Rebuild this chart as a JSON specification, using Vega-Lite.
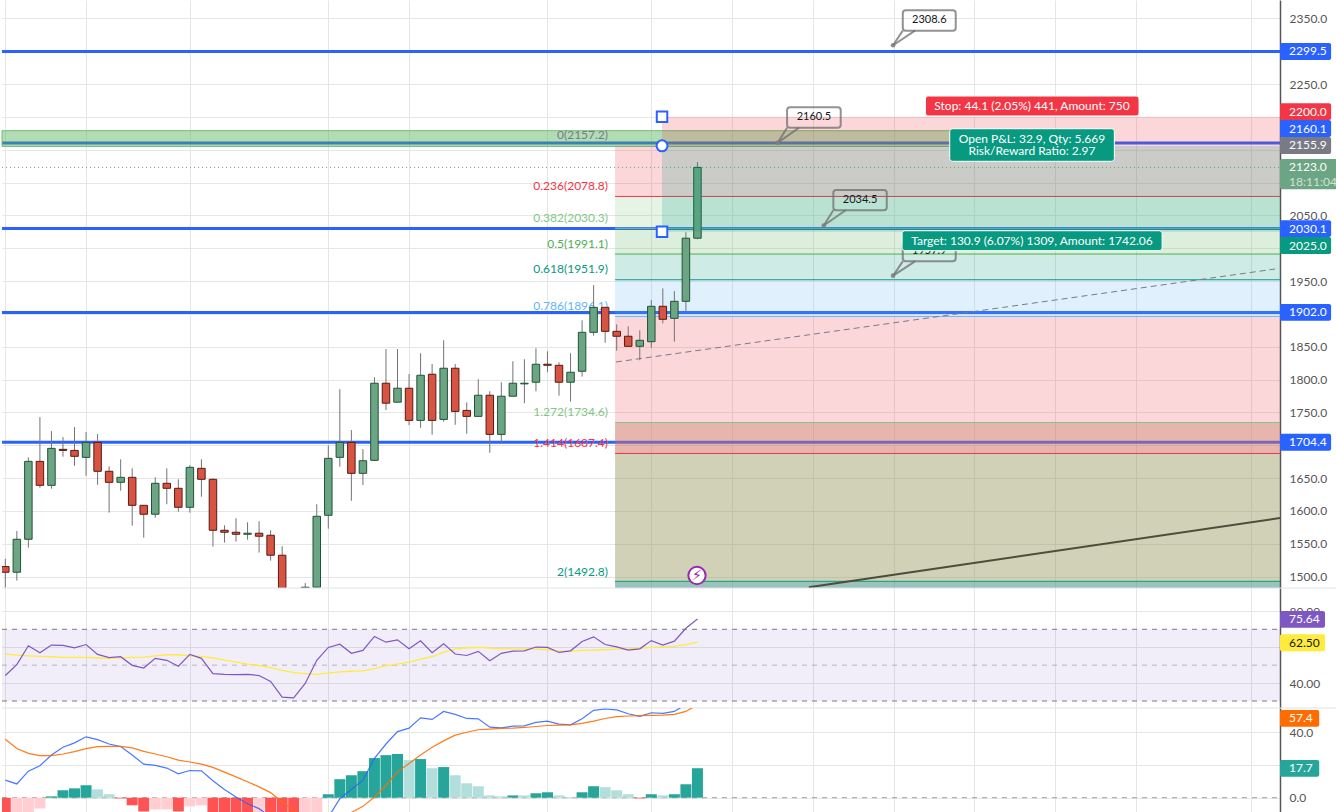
{
"$schema":"https://vega.github.io/schema/vega-lite/v6.json",
"padding":0,"spacing":0,"bounds":"flush","background":"white",
"config":{"view":{"stroke":null},"text":{"font":"Lato"}},
"datasets":{
"candles":[
{"x":0,"o":1515.2,"h":1526.9,"l":1482.8,"c":1506.6,"d":"down"},
{"x":1,"o":1506.6,"h":1569.4,"l":1493.9,"c":1556.8,"d":"up"},
{"x":2,"o":1556.8,"h":1681.5,"l":1544.1,"c":1675.4,"d":"up"},
{"x":3,"o":1675.4,"h":1742.8,"l":1635.3,"c":1638.9,"d":"down"},
{"x":4,"o":1638.9,"h":1721.5,"l":1633.8,"c":1695.2,"d":"up"},
{"x":5,"o":1693.7,"h":1712.4,"l":1682.5,"c":1692.1,"d":"down"},
{"x":6,"o":1692.1,"h":1727.6,"l":1668.8,"c":1683.1,"d":"down"},
{"x":7,"o":1681.5,"h":1720,"l":1653.5,"c":1704.3,"d":"up"},
{"x":8,"o":1704.3,"h":1717,"l":1639.9,"c":1660.3,"d":"down"},
{"x":9,"o":1660.3,"h":1667.8,"l":1597.3,"c":1643.5,"d":"down"},
{"x":10,"o":1643.5,"h":1678.5,"l":1630.8,"c":1651.1,"d":"up"},
{"x":11,"o":1651.1,"h":1664.8,"l":1577.5,"c":1608.5,"d":"down"},
{"x":12,"o":1608.5,"h":1608.5,"l":1559.3,"c":1594.9,"d":"down"},
{"x":13,"o":1594.9,"h":1651.1,"l":1589.7,"c":1642,"d":"up"},
{"x":14,"o":1642,"h":1664.8,"l":1610.1,"c":1634.4,"d":"down"},
{"x":15,"o":1634.4,"h":1648.1,"l":1598.8,"c":1605.5,"d":"down"},
{"x":16,"o":1605.5,"h":1669.4,"l":1597.3,"c":1666.3,"d":"up"},
{"x":17,"o":1664.8,"h":1678.5,"l":1621.6,"c":1648.1,"d":"down"},
{"x":18,"o":1648.1,"h":1649.6,"l":1545.6,"c":1570.5,"d":"down"},
{"x":19,"o":1570.5,"h":1578.1,"l":1551.7,"c":1567.5,"d":"down"},
{"x":20,"o":1567.5,"h":1588.8,"l":1553.2,"c":1564.4,"d":"down"},
{"x":21,"o":1564.4,"h":1582.7,"l":1556.2,"c":1566,"d":"up"},
{"x":22,"o":1566,"h":1584.2,"l":1536.5,"c":1561.4,"d":"down"},
{"x":23,"o":1562.9,"h":1570.5,"l":1524.3,"c":1532.5,"d":"down"},
{"x":24,"o":1532.5,"h":1546.2,"l":1466,"c":1480,"d":"down"},
{"x":25,"o":1479,"h":1481,"l":1456,"c":1470,"d":"down"},
{"x":26,"o":1482.6,"h":1490,"l":1479,"c":1483.8,"d":"up"},
{"x":27,"o":1483.8,"h":1610.1,"l":1479,"c":1591.8,"d":"up"},
{"x":28,"o":1593.3,"h":1699.8,"l":1572.9,"c":1680,"d":"up"},
{"x":29,"o":1681.5,"h":1785.3,"l":1667.2,"c":1704.3,"d":"up"},
{"x":30,"o":1704.3,"h":1723.1,"l":1615.5,"c":1657.2,"d":"down"},
{"x":31,"o":1657.2,"h":1694.2,"l":1639.4,"c":1676.4,"d":"up"},
{"x":32,"o":1677,"h":1803.5,"l":1676,"c":1794.4,"d":"up"},
{"x":33,"o":1794.4,"h":1846.5,"l":1753.5,"c":1764,"d":"down"},
{"x":34,"o":1765.5,"h":1846.5,"l":1765.2,"c":1786.8,"d":"up"},
{"x":35,"o":1786.8,"h":1808.5,"l":1730.7,"c":1737.8,"d":"down"},
{"x":36,"o":1737.8,"h":1840,"l":1726.5,"c":1806.5,"d":"up"},
{"x":37,"o":1808.1,"h":1823.7,"l":1715.9,"c":1737.8,"d":"down"},
{"x":38,"o":1739.3,"h":1859.8,"l":1735.7,"c":1817.2,"d":"up"},
{"x":39,"o":1817.2,"h":1823.7,"l":1731.1,"c":1751.5,"d":"down"},
{"x":40,"o":1753,"h":1765.1,"l":1717.4,"c":1743.9,"d":"down"},
{"x":41,"o":1743.9,"h":1800.4,"l":1743.9,"c":1776.1,"d":"up"},
{"x":42,"o":1776.1,"h":1782.2,"l":1688.5,"c":1716.5,"d":"down"},
{"x":43,"o":1716.5,"h":1795.9,"l":1702.8,"c":1774.6,"d":"up"},
{"x":44,"o":1774.6,"h":1827.8,"l":1774.6,"c":1794.4,"d":"up"},
{"x":45,"o":1793.4,"h":1830.9,"l":1764,"c":1794.4,"d":"up"},
{"x":46,"o":1795.9,"h":1847.6,"l":1782.2,"c":1823.3,"d":"up"},
{"x":47,"o":1823.3,"h":1843,"l":1811.1,"c":1821.7,"d":"down"},
{"x":48,"o":1821.7,"h":1826.3,"l":1775.5,"c":1795.9,"d":"down"},
{"x":49,"o":1795.9,"h":1840,"l":1766.4,"c":1811.1,"d":"up"},
{"x":50,"o":1812.6,"h":1890.2,"l":1804.4,"c":1871.9,"d":"up"},
{"x":51,"o":1871.9,"h":1943.8,"l":1866.7,"c":1909.9,"d":"up"},
{"x":52,"o":1909.9,"h":1909.9,"l":1856.1,"c":1873.4,"d":"down"},
{"x":53,"o":1873.4,"h":1884.1,"l":1843.9,"c":1865.9,"d":"down"},
{"x":54,"o":1865.9,"h":1881.1,"l":1850.6,"c":1850.6,"d":"down"},
{"x":55,"o":1850.6,"h":1874.9,"l":1829.4,"c":1859.7,"d":"up"},
{"x":56,"o":1857.6,"h":1921,"l":1848.5,"c":1911.5,"d":"up"},
{"x":57,"o":1911.5,"h":1938.8,"l":1885.6,"c":1891.7,"d":"down"},
{"x":58,"o":1893.2,"h":1934.7,"l":1857.6,"c":1919.1,"d":"up"},
{"x":59,"o":1919.1,"h":2024.3,"l":1903.9,"c":2015.2,"d":"up"},
{"x":60,"o":2015.2,"h":2131.2,"l":2013.7,"c":2123,"d":"up"}
],
"hlines":[
{"x":-0.286,"x2":110.5,"y":2299.5},
{"x":-0.286,"x2":110.5,"y":2160.1},
{"x":-0.286,"x2":110.5,"y":2030.1},
{"x":-0.286,"x2":110.5,"y":1902},
{"x":-0.286,"x2":110.5,"y":1704.4}
],
"fib":[
{"k":"a","x":52.86,"x2":110.5,"y":2155.5,"y2":2078.8},
{"k":"b","x":52.86,"x2":110.5,"y":2078.8,"y2":2030.3},
{"k":"c","x":52.86,"x2":110.5,"y":2030.3,"y2":1991.1},
{"k":"d","x":52.86,"x2":110.5,"y":1991.1,"y2":1951.9},
{"k":"e","x":52.86,"x2":110.5,"y":1951.9,"y2":1896.1},
{"k":"f","x":52.86,"x2":110.5,"y":1896.1,"y2":1734.6},
{"k":"g","x":52.86,"x2":110.5,"y":1734.6,"y2":1687.4},
{"k":"h","x":52.86,"x2":110.5,"y":1687.4,"y2":1492.8},
{"k":"i","x":52.86,"x2":110.5,"y":1492.8,"y2":1482.6}
],
"fibLines":[
{"k":"0.236","x":52.86,"x2":110.5,"y":2078.8},
{"k":"0.382","x":52.86,"x2":110.5,"y":2030.3},
{"k":"0.5","x":52.86,"x2":110.5,"y":1991.1},
{"k":"0.618","x":52.86,"x2":110.5,"y":1951.9},
{"k":"0.786","x":52.86,"x2":110.5,"y":1896.1},
{"k":"1.272","x":52.86,"x2":110.5,"y":1734.6},
{"k":"1.414","x":52.86,"x2":110.5,"y":1687.4},
{"k":"2","x":52.86,"x2":110.5,"y":1492.8}
],
"fibLabels":[
{"k":"0","x":52.25,"y":2172.3,"t":"0(2157.2)"},
{"k":"0.236","x":52.25,"y":2094.7,"t":"0.236(2078.8)"},
{"k":"0.382","x":52.25,"y":2046.4,"t":"0.382(2030.3)"},
{"k":"0.5","x":52.25,"y":2006.4,"t":"0.5(1991.1)"},
{"k":"0.618","x":52.25,"y":1968.8,"t":"0.618(1951.9)"},
{"k":"0.786","x":52.25,"y":1912.4,"t":"0.786(1896.1)"},
{"k":"1.272","x":52.25,"y":1750.1,"t":"1.272(1734.6)"},
{"k":"1.414","x":52.25,"y":1703.8,"t":"1.414(1687.4)"},
{"k":"2","x":52.25,"y":1507.4,"t":"2(1492.8)"}
],
"band":[{"x":-0.286,"x2":86.4,"y":2178.9,"y2":2155}],
"position":[
{"k":"stop","x":56.93,"x2":110.5,"y":2200,"y2":2155.9},
{"k":"target","x":56.93,"x2":110.5,"y":2155.9,"y2":2025}
],
"trend":[{"x":52.94,"x2":110.07,"y":1826.7,"y2":1968.3}],
"trend2":[{"x":69.65,"x2":110.5,"y":1483.7,"y2":1589.2}],
"last":[{"x":-0.286,"x2":110.5,"y":2123}],
"tails":[
{"x":76.96,"y":2309,"x2":77.8,"y2":2331.2},
{"x":76.96,"y":2309,"x2":78.86,"y2":2331.2},
{"x":66.96,"y":2160.5,"x2":67.77,"y2":2183.5},
{"x":66.96,"y":2160.5,"x2":68.81,"y2":2183.5},
{"x":70.95,"y":2034.5,"x2":71.78,"y2":2057.7},
{"x":70.95,"y":2034.5,"x2":72.85,"y2":2057.7},
{"x":76.96,"y":1958.1,"x2":77.8,"y2":1980},
{"x":76.96,"y":1958.1,"x2":78.86,"y2":1980}
],
"anchors":[{"x":76.96,"y":2309},{"x":66.96,"y":2160.5},{"x":70.95,"y":2034.5},{"x":76.96,"y":1958.1}],
"boxes":[
{"x":77.8,"x2":82.39,"y":2362.2,"y2":2331.2},
{"x":67.77,"x2":72.42,"y":2214.5,"y2":2183.5},
{"x":71.78,"x2":76.41,"y":2088.6,"y2":2057.7},
{"x":77.8,"x2":82.39,"y":2011,"y2":1980}
],
"boxText":[
{"x":80.1,"y":2346.7,"t":"2308.6"},
{"x":70.1,"y":2199,"t":"2160.5"},
{"x":74.1,"y":2073,"t":"2034.5"},
{"x":80.1,"y":1995.7,"t":"1957.9"}
],
"handlesS":[{"x":56.93,"y":2200},{"x":56.93,"y":2025}],
"handlesC":[{"x":56.93,"y":2155.9}],
"event":[{"x":59.96,"y":1501.6,"t":"⚡"}],
"toolTags":[
{"k":"stop","x":79.76,"x2":98.28,"y":2231.7,"y2":2201.3},
{"k":"open","x":81.87,"x2":96.14,"y":2181.9,"y2":2132.3},
{"k":"target","x":77.74,"x2":100.28,"y":2026.6,"y2":1996.2}
],
"toolText":[
{"x":89,"y":2216.5,"t":"Stop: 44.1 (2.05%) 441, Amount: 750"},
{"x":89,"y":2166.7,"t":"Open P&L: 32.9, Qty: 5.669"},
{"x":89,"y":2148,"t":"Risk/Reward Ratio: 2.97"},
{"x":89,"y":2011.4,"t":"Target: 130.9 (6.07%) 1309, Amount: 1742.06"}
],
"priceTags":[
{"k":"blue","x":110.5,"x2":114.93,"y":2312.4,"y2":2286.6},
{"k":"red","x":110.5,"x2":114.93,"y":2220.6,"y2":2195},
{"k":"blue","x":110.5,"x2":114.93,"y":2195,"y2":2169.3},
{"k":"grey","x":110.5,"x2":114.93,"y":2169.3,"y2":2143.4},
{"k":"green","x":110.5,"x2":115.6,"y":2135.8,"y2":2089.7},
{"k":"blue","x":110.5,"x2":114.93,"y":2042.5,"y2":2017},
{"k":"teal","x":110.5,"x2":114.93,"y":2017,"y2":1991.2},
{"k":"blue","x":110.5,"x2":114.93,"y":1915.2,"y2":1889.6},
{"k":"blue","x":110.5,"x2":114.93,"y":1717.3,"y2":1691.5}
],
"priceText":[
{"x":111.29,"y":2299.5,"t":"2299.5"},
{"x":111.29,"y":2207.8,"t":"2200.0"},
{"x":111.29,"y":2182.2,"t":"2160.1"},
{"x":111.29,"y":2156.4,"t":"2155.9"},
{"x":111.29,"y":2123,"t":"2123.0"},
{"x":111.29,"y":2029.8,"t":"2030.1"},
{"x":111.29,"y":2004,"t":"2025.0"},
{"x":111.29,"y":1902.4,"t":"1902.0"},
{"x":111.29,"y":1704.4,"t":"1704.4"}
],
"timer":[{"x":111.29,"y":2101.2,"t":"18:11:04"}],
"sepR":[{"x":-0.286,"x2":115.6,"y":93}],
"sepM":[{"x":-0.286,"x2":115.6,"y":54.8}],
"rsiBand":[{"x":-0.286,"x2":110.5,"y":70,"y2":30}],
"rsiDash":[{"x":-0.286,"x2":110.5,"y":70},{"x":-0.286,"x2":110.5,"y":30}],
"rsiMid":[{"x":-0.286,"x2":110.5,"y":50}],
"rsiTags":[
{"k":"rsi","x":110.5,"x2":114.4,"y":80.2,"y2":70.9},
{"k":"ma","x":110.5,"x2":114.4,"y":67.3,"y2":57.8}
],
"rsiText1":[{"x":111.29,"y":75.64,"t":"75.64"}],
"rsiText2":[{"x":111.29,"y":62.5,"t":"62.50"}],
"macdZero":[{"x":-0.286,"x2":110.5,"y":0}],
"macdTags":[
{"k":"sig","x":110.5,"x2":113.9,"y":53.6,"y2":43.4},
{"k":"hist","x":110.5,"x2":113.9,"y":23,"y2":12.8}
],
"macdText":[{"x":111.29,"y":48.5,"t":"57.4"},{"x":111.29,"y":17.9,"t":"17.7"}],
"rsi":[
{"x":0,"rsi":44.2,"ma":56.2},{"x":1,"rsi":50.3,"ma":55.6},{"x":2,"rsi":60.8,"ma":55.2},{"x":3,"rsi":56.9,"ma":54.9},{"x":4,"rsi":61.2,"ma":54.7},
{"x":5,"rsi":61,"ma":54.3},{"x":6,"rsi":59.7,"ma":54.3},{"x":7,"rsi":61.5,"ma":54.3},{"x":8,"rsi":56,"ma":54},{"x":9,"rsi":54.2,"ma":53.8},
{"x":10,"rsi":54.7,"ma":54.1},{"x":11,"rsi":49.9,"ma":54.3},{"x":12,"rsi":48.4,"ma":54.5},{"x":13,"rsi":53.8,"ma":55.2},{"x":14,"rsi":52.7,"ma":55.8},
{"x":15,"rsi":49.4,"ma":55.8},{"x":16,"rsi":56,"ma":55.2},{"x":17,"rsi":53.8,"ma":54.9},{"x":18,"rsi":45.3,"ma":54},{"x":19,"rsi":44.9,"ma":52.8},
{"x":20,"rsi":44.7,"ma":51.7},{"x":21,"rsi":44.9,"ma":50.6},{"x":22,"rsi":44.2,"ma":49.7},{"x":23,"rsi":40.9,"ma":48.6},{"x":24,"rsi":32.2,"ma":47.1},
{"x":25,"rsi":31.7,"ma":45.8},{"x":26,"rsi":39.8,"ma":45.3},{"x":27,"rsi":52.7,"ma":44.9},{"x":28,"rsi":59.9,"ma":45.5},{"x":29,"rsi":61.7,"ma":46.2},
{"x":30,"rsi":56.6,"ma":46.6},{"x":31,"rsi":58.2,"ma":46.8},{"x":32,"rsi":66,"ma":48.1},{"x":33,"rsi":62.8,"ma":49.7},{"x":34,"rsi":64.1,"ma":50.6},
{"x":35,"rsi":59.1,"ma":51.7},{"x":36,"rsi":63.6,"ma":53.4},{"x":37,"rsi":56.9,"ma":54.7},{"x":38,"rsi":61.9,"ma":57.3},{"x":39,"rsi":56.2,"ma":58.9},
{"x":40,"rsi":55.4,"ma":59.7},{"x":41,"rsi":57.7,"ma":59.9},{"x":42,"rsi":52.5,"ma":59.5},{"x":43,"rsi":56.6,"ma":59.1},{"x":44,"rsi":57.8,"ma":59.1},
{"x":45,"rsi":58,"ma":59.1},{"x":46,"rsi":60.1,"ma":58.9},{"x":47,"rsi":59.9,"ma":58.6},{"x":48,"rsi":57.1,"ma":58},{"x":49,"rsi":58,"ma":57.8},
{"x":50,"rsi":63.2,"ma":58.2},{"x":51,"rsi":65.8,"ma":58.4},{"x":52,"rsi":61.5,"ma":58.6},{"x":53,"rsi":60.2,"ma":58.9},{"x":54,"rsi":58.4,"ma":59.1},
{"x":55,"rsi":59.1,"ma":59.5},{"x":56,"rsi":63.7,"ma":59.9},{"x":57,"rsi":61.2,"ma":60.2},{"x":58,"rsi":63.4,"ma":60.6},{"x":59,"rsi":70.6,"ma":61.5},
{"x":60,"rsi":75.7,"ma":62.8}
],
"macd":[
{"x":0,"macd":10.7,"sig":35.7,"hist":-10,"k":"sd"},{"x":1,"macd":8.4,"sig":30,"hist":-10,"k":"wd"},{"x":2,"macd":16.2,"sig":27.1,"hist":-10,"k":"wd"},{"x":3,"macd":19.5,"sig":25.7,"hist":-6.6,"k":"wd"},{"x":4,"macd":26.1,"sig":25.7,"hist":0.8,"k":"su"},
{"x":5,"macd":30.8,"sig":26.7,"hist":4.5,"k":"su"},{"x":6,"macd":33.5,"sig":28.1,"hist":5.7,"k":"su"},{"x":7,"macd":37.2,"sig":30,"hist":7.6,"k":"su"},{"x":8,"macd":35.5,"sig":31.2,"hist":5.1,"k":"wu"},{"x":9,"macd":32.8,"sig":31.4,"hist":2.1,"k":"wu"},
{"x":10,"macd":31.2,"sig":31.4,"hist":-0.4,"k":"sd"},{"x":11,"macd":26.1,"sig":30.4,"hist":-4.7,"k":"sd"},{"x":12,"macd":20.5,"sig":28.3,"hist":-8.4,"k":"sd"},{"x":13,"macd":19.7,"sig":26.7,"hist":-7.2,"k":"wd"},{"x":14,"macd":18.1,"sig":25,"hist":-7.2,"k":"wd"},
{"x":15,"macd":14.6,"sig":23,"hist":-8.4,"k":"sd"},{"x":16,"macd":16.6,"sig":21.8,"hist":-5.3,"k":"wd"},{"x":17,"macd":16.4,"sig":20.5,"hist":-4.7,"k":"wd"},{"x":18,"macd":10.3,"sig":18.5,"hist":-12,"k":"sd"},{"x":19,"macd":5,"sig":15.6,"hist":-14,"k":"sd"},
{"x":20,"macd":0.4,"sig":12.7,"hist":-16,"k":"sd"},{"x":21,"macd":-3.7,"sig":9.7,"hist":-13,"k":"sd"},{"x":22,"macd":-6.7,"sig":6.6,"hist":-10,"k":"wd"},{"x":23,"macd":-11.9,"sig":3.1,"hist":-12,"k":"sd"},{"x":24,"macd":-16,"sig":-2.6,"hist":-12,"k":"sd"},
{"x":25,"macd":-20,"sig":-7.8,"hist":-13,"k":"sd"},{"x":26,"macd":-21,"sig":-11,"hist":-11,"k":"wd"},{"x":27,"macd":-15,"sig":-13,"hist":-10,"k":"wd"},{"x":28,"macd":-11.9,"sig":-14,"hist":2.1,"k":"su"},{"x":29,"macd":-0.6,"sig":-12,"hist":11.3,"k":"su"},
{"x":30,"macd":5,"sig":-9,"hist":13.7,"k":"su"},{"x":31,"macd":10.7,"sig":-5.3,"hist":16.2,"k":"su"},{"x":32,"macd":24,"sig":0.4,"hist":24.2,"k":"su"},{"x":33,"macd":32.8,"sig":7.6,"hist":26,"k":"su"},{"x":34,"macd":40.4,"sig":15.8,"hist":26.7,"k":"su"},
{"x":35,"macd":42.5,"sig":20.9,"hist":23,"k":"wu"},{"x":36,"macd":48.8,"sig":26.1,"hist":23.6,"k":"su"},{"x":37,"macd":47.8,"sig":30.8,"hist":18,"k":"wu"},{"x":38,"macd":52.7,"sig":34.7,"hist":18.7,"k":"su"},{"x":39,"macd":50.9,"sig":38.2,"hist":13.7,"k":"wu"},
{"x":40,"macd":48.4,"sig":40,"hist":8.8,"k":"wu"},{"x":41,"macd":48.2,"sig":41.5,"hist":7,"k":"wu"},{"x":42,"macd":43.1,"sig":41.9,"hist":1.4,"k":"wu"},{"x":43,"macd":42.7,"sig":42.3,"hist":0.8,"k":"wu"},{"x":44,"macd":43.7,"sig":42.5,"hist":1.4,"k":"su"},
{"x":45,"macd":43.9,"sig":42.9,"hist":1.4,"k":"wu"},{"x":46,"macd":46,"sig":43.5,"hist":2.7,"k":"su"},{"x":47,"macd":46.8,"sig":44.1,"hist":3.3,"k":"su"},{"x":48,"macd":44.9,"sig":44.3,"hist":1.4,"k":"wu"},{"x":49,"macd":44.5,"sig":44.5,"hist":0.4,"k":"wu"},
{"x":50,"macd":48.2,"sig":45.4,"hist":3.3,"k":"su"},{"x":51,"macd":53.4,"sig":46.8,"hist":7,"k":"su"},{"x":52,"macd":54.2,"sig":48.4,"hist":6.4,"k":"wu"},{"x":53,"macd":53.6,"sig":49.5,"hist":4.5,"k":"wu"},{"x":54,"macd":51.3,"sig":49.9,"hist":2.1,"k":"wu"},
{"x":55,"macd":49.7,"sig":50.1,"hist":-0.4,"k":"sd"},{"x":56,"macd":51.9,"sig":50.3,"hist":2.1,"k":"su"},{"x":57,"macd":51.5,"sig":50.5,"hist":1.4,"k":"wu"},{"x":58,"macd":52.7,"sig":50.9,"hist":2.1,"k":"su"},{"x":59,"macd":57,"sig":52.7,"hist":8.2,"k":"su"},
{"x":60,"macd":64,"sig":56.8,"hist":18,"k":"su"}
]
},
"vconcat":[
{
"width":1278,"height":588,
"resolve":{"scale":{"fill":"independent","stroke":"independent"}},
"encoding":{
"x":{"field":"x","type":"quantitative","title":null,"scale":{"domain":[-0.286,110.5],"nice":false,"zero":false,"padding":0},"axis":{"title":null,"values":[0,7,16,28,35,47,56,63,70,77,84,91,98,108],"labels":false,"ticks":false,"domain":false,"grid":true,"gridColor":"#e6e6e6","gridWidth":1}},
"y":{"field":"y","type":"quantitative","title":null,"scale":{"domain":[1482.6,2377.9],"nice":false,"zero":false},"axis":{"title":null,"orient":"right","values":[1500,1550,1600,1650,1700,1750,1800,1850,1900,1950,2000,2050,2100,2150,2200,2250,2300,2350],"labelExpr":"indexof([2300,2200,2150,2100,2000,1900,1700],datum.value)>=0?'':format(datum.value,'.1f')","ticks":false,"labelPadding":9,"labelFont":"Lato","labelFontSize":12,"labelColor":"#555555","domain":true,"domainColor":"#555555","domainWidth":1.5,"grid":true,"gridColor":"#e6e6e6","gridWidth":1}}
},
"layer":[
{"data":{"name":"hlines"},"mark":{"type":"rule","stroke":"#2962ff","strokeWidth":3},"encoding":{"x2":{"field":"x2"}}},
{"data":{"name":"band"},"mark":{"type":"rect","fill":"rgba(76,175,80,0.43)","stroke":"#6abf6e","strokeWidth":1},"encoding":{"x2":{"field":"x2"},"y2":{"field":"y2"}}},
{"data":{"name":"fib"},"mark":{"type":"rect","clip":true},"encoding":{"x2":{"field":"x2"},"y2":{"field":"y2"},"fill":{"field":"k","type":"nominal","legend":null,"scale":{"domain":["a","b","c","d","e","f","g","h","i"],"range":["rgba(242,54,69,0.2)","rgba(129,199,132,0.2)","rgba(76,175,80,0.2)","rgba(8,153,129,0.2)","rgba(100,181,246,0.2)","rgba(242,54,69,0.2)","rgba(205,109,93,0.5)","rgba(137,140,75,0.4)","rgba(53,137,119,0.5)"]}}}},
{"data":{"name":"fibLines"},"mark":{"type":"rule","strokeWidth":1},"encoding":{"x2":{"field":"x2"},"stroke":{"field":"k","type":"nominal","legend":null,"scale":{"domain":["0.236","0.382","0.5","0.618","0.786","1.272","1.414","2"],"range":["#f23645","#81c784","#4caf50","#089981","#64b5f6","#81c784","#f23645","#089981"]}}}},
{"data":{"name":"trend2"},"mark":{"type":"rule","stroke":"#4d4d3a","strokeWidth":2,"clip":true},"encoding":{"x2":{"field":"x2"},"y2":{"field":"y2"}}},
{"data":{"name":"trend"},"mark":{"type":"rule","stroke":"#787b86","strokeWidth":1,"strokeDash":[6,4]},"encoding":{"x2":{"field":"x2"},"y2":{"field":"y2"}}},
{"data":{"name":"last"},"mark":{"type":"rule","stroke":"#6ba583","strokeWidth":1,"strokeDash":[1,3]},"encoding":{"x2":{"field":"x2"}}},
{"data":{"name":"fibLabels"},"mark":{"type":"text","align":"right","baseline":"middle","fontSize":12,"font":"Lato"},"encoding":{"text":{"field":"t"},"fill":{"field":"k","type":"nominal","legend":null,"scale":{"domain":["0","0.236","0.382","0.5","0.618","0.786","1.272","1.414","2"],"range":["#787b86","#f23645","#81c784","#4caf50","#089981","#64b5f6","#81c784","#f23645","#089981"]}}}},
{"data":{"name":"candles"},"mark":{"type":"rule","stroke":"#737375","strokeWidth":1,"clip":true},"encoding":{"y":{"field":"h","type":"quantitative"},"y2":{"field":"l"}}},
{"data":{"name":"candles"},"mark":{"type":"bar","size":7.5,"strokeWidth":1,"clip":true},"encoding":{"y":{"field":"o","type":"quantitative"},"y2":{"field":"c"},"fill":{"field":"d","type":"nominal","legend":null,"scale":{"domain":["up","down"],"range":["#6ba583","#d75442"]}},"stroke":{"field":"d","type":"nominal","legend":null,"scale":{"domain":["up","down"],"range":["#225437","#5b1a13"]}}}},
{"data":{"name":"position"},"mark":{"type":"rect"},"encoding":{"x2":{"field":"x2"},"y2":{"field":"y2"},"fill":{"field":"k","type":"nominal","legend":null,"scale":{"domain":["stop","target"],"range":["rgba(242,54,69,0.2)","rgba(8,153,129,0.2)"]}}}},
{"data":{"name":"tails"},"mark":{"type":"rule","stroke":"rgba(110,110,110,0.75)","strokeWidth":2},"encoding":{"x2":{"field":"x2"},"y2":{"field":"y2"}}},
{"data":{"name":"boxes"},"mark":{"type":"rect","fill":"transparent","stroke":"rgba(110,110,110,0.75)","strokeWidth":2,"cornerRadius":3},"encoding":{"x2":{"field":"x2"},"y2":{"field":"y2"}}},
{"data":{"name":"anchors"},"mark":{"type":"point","shape":"circle","filled":true,"size":22,"fill":"#808080","opacity":0.9},"encoding":{}},
{"data":{"name":"boxText"},"mark":{"type":"text","align":"center","baseline":"middle","fontSize":11,"font":"Lato","fill":"#131722"},"encoding":{"text":{"field":"t"}}},
{"data":{"name":"handlesS"},"mark":{"type":"point","shape":"square","filled":true,"size":110,"fill":"white","stroke":"#2962ff","strokeWidth":2,"opacity":1},"encoding":{}},
{"data":{"name":"handlesC"},"mark":{"type":"point","shape":"circle","filled":true,"size":120,"fill":"white","stroke":"#2962ff","strokeWidth":2,"opacity":1},"encoding":{}},
{"data":{"name":"event"},"mark":{"type":"point","shape":"circle","filled":true,"size":300,"fill":"white","stroke":"#9c27b0","strokeWidth":2,"opacity":1},"encoding":{}},
{"data":{"name":"event"},"mark":{"type":"text","align":"center","baseline":"middle","fontSize":14,"font":"DejaVu Sans","fill":"#9c27b0"},"encoding":{"text":{"field":"t"}}},
{"data":{"name":"toolTags"},"mark":{"type":"rect","cornerRadius":3,"stroke":"white","strokeWidth":1},"encoding":{"x2":{"field":"x2"},"y2":{"field":"y2"},"fill":{"field":"k","type":"nominal","legend":null,"scale":{"domain":["stop","open","target"],"range":["#f23645","#089981","#089981"]}}}},
{"data":{"name":"toolText"},"mark":{"type":"text","align":"center","baseline":"middle","fontSize":12,"font":"Lato","fill":"white"},"encoding":{"text":{"field":"t"}}},
{"data":{"name":"priceTags"},"mark":{"type":"rect","cornerRadius":2},"encoding":{"x2":{"field":"x2"},"y2":{"field":"y2"},"fill":{"field":"k","type":"nominal","legend":null,"scale":{"domain":["blue","red","grey","green","teal"],"range":["#2962ff","#f23645","#787b86","#6ba583","#089981"]}}}},
{"data":{"name":"priceText"},"mark":{"type":"text","align":"left","baseline":"middle","fontSize":12,"font":"Lato","fill":"white"},"encoding":{"text":{"field":"t"}}},
{"data":{"name":"timer"},"mark":{"type":"text","align":"left","baseline":"middle","fontSize":12,"font":"Lato","fill":"rgba(255,255,255,0.7)"},"encoding":{"text":{"field":"t"}}}
]
},
{
"width":1278,"height":120,
"resolve":{"scale":{"fill":"independent","stroke":"independent"}},
"encoding":{
"x":{"field":"x","type":"quantitative","title":null,"scale":{"domain":[-0.286,110.5],"nice":false,"zero":false,"padding":0},"axis":{"title":null,"values":[0,7,16,28,35,47,56,63,70,77,84,91,98,108],"labels":false,"ticks":false,"domain":false,"grid":true,"gridColor":"#e6e6e6","gridWidth":1}},
"y":{"field":"y","type":"quantitative","title":null,"scale":{"domain":[26.1,93.04],"nice":false,"zero":false},"axis":{"title":null,"orient":"right","values":[80,60,40],"labelExpr":"datum.value==60?'':format(datum.value,'.2f')","ticks":false,"labelPadding":9,"labelFont":"Lato","labelFontSize":12,"labelColor":"#555555","domain":true,"domainColor":"#555555","domainWidth":1.5,"grid":true,"gridColor":"#e6e6e6","gridWidth":1}}
},
"layer":[
{"data":{"name":"sepR"},"mark":{"type":"rule","stroke":"#e0e3eb","strokeWidth":1},"encoding":{"x2":{"field":"x2"}}},
{"data":{"name":"rsiBand"},"mark":{"type":"rect","fill":"rgba(126,87,194,0.1)"},"encoding":{"x2":{"field":"x2"},"y2":{"field":"y2"}}},
{"data":{"name":"rsiDash"},"mark":{"type":"rule","stroke":"#787b86","strokeWidth":1,"strokeDash":[5,5]},"encoding":{"x2":{"field":"x2"}}},
{"data":{"name":"rsiMid"},"mark":{"type":"rule","stroke":"rgba(120,123,134,0.5)","strokeWidth":1,"strokeDash":[5,5]},"encoding":{"x2":{"field":"x2"}}},
{"data":{"name":"rsi"},"mark":{"type":"line","stroke":"#ffeb3b","strokeWidth":1.3,"clip":true},"encoding":{"y":{"field":"ma","type":"quantitative"}}},
{"data":{"name":"rsi"},"mark":{"type":"line","stroke":"#7e57c2","strokeWidth":1.2,"clip":true},"encoding":{"y":{"field":"rsi","type":"quantitative"}}},
{"data":{"name":"rsiTags"},"mark":{"type":"rect","cornerRadius":2},"encoding":{"x2":{"field":"x2"},"y2":{"field":"y2"},"fill":{"field":"k","type":"nominal","legend":null,"scale":{"domain":["rsi","ma"],"range":["#7e57c2","#ffeb3b"]}}}},
{"data":{"name":"rsiText1"},"mark":{"type":"text","align":"left","baseline":"middle","fontSize":12,"font":"Lato","fill":"white"},"encoding":{"text":{"field":"t"}}},
{"data":{"name":"rsiText2"},"mark":{"type":"text","align":"left","baseline":"middle","fontSize":12,"font":"Lato","fill":"#131722"},"encoding":{"text":{"field":"t"}}}
]
},
{
"width":1278,"height":104,
"resolve":{"scale":{"fill":"independent","stroke":"independent"}},
"encoding":{
"x":{"field":"x","type":"quantitative","title":null,"scale":{"domain":[-0.286,110.5],"nice":false,"zero":false,"padding":0},"axis":{"title":null,"values":[0,7,16,28,35,47,56,63,70,77,84,91,98,108],"labels":false,"ticks":false,"domain":false,"grid":true,"gridColor":"#e6e6e6","gridWidth":1}},
"y":{"field":"y","type":"quantitative","title":null,"scale":{"domain":[-8.75,54.8],"nice":false,"zero":false},"axis":{"title":null,"orient":"right","values":[40,20,0],"labelExpr":"datum.value==20?'':format(datum.value,'.1f')","ticks":false,"labelPadding":9,"labelFont":"Lato","labelFontSize":12,"labelColor":"#555555","domain":true,"domainColor":"#555555","domainWidth":1.5,"grid":true,"gridColor":"#e6e6e6","gridWidth":1}}
},
"layer":[
{"data":{"name":"sepM"},"mark":{"type":"rule","stroke":"#e0e3eb","strokeWidth":1},"encoding":{"x2":{"field":"x2"}}},
{"data":{"name":"macdZero"},"mark":{"type":"rule","stroke":"rgba(120,123,134,0.7)","strokeWidth":1,"strokeDash":[5,5]},"encoding":{"x2":{"field":"x2"}}},
{"data":{"name":"macd"},"mark":{"type":"bar","size":11,"clip":true},"encoding":{"y":{"field":"hist","type":"quantitative"},"y2":{"datum":0},"fill":{"field":"k","type":"nominal","legend":null,"scale":{"domain":["su","wu","sd","wd"],"range":["#26a69a","#b2dfdb","#ff5252","#ffcdd2"]}}}},
{"data":{"name":"macd"},"mark":{"type":"line","stroke":"#2962ff","strokeWidth":1.2,"opacity":0.85,"clip":true},"encoding":{"y":{"field":"macd","type":"quantitative"}}},
{"data":{"name":"macd"},"mark":{"type":"line","stroke":"#ff6d00","strokeWidth":1.2,"opacity":0.9,"clip":true},"encoding":{"y":{"field":"sig","type":"quantitative"}}},
{"data":{"name":"macdTags"},"mark":{"type":"rect","cornerRadius":2},"encoding":{"x2":{"field":"x2"},"y2":{"field":"y2"},"fill":{"field":"k","type":"nominal","legend":null,"scale":{"domain":["sig","hist"],"range":["#ff6d00","#26a69a"]}}}},
{"data":{"name":"macdText"},"mark":{"type":"text","align":"left","baseline":"middle","fontSize":12,"font":"Lato","fill":"white"},"encoding":{"text":{"field":"t"}}}
]
}
]
}
